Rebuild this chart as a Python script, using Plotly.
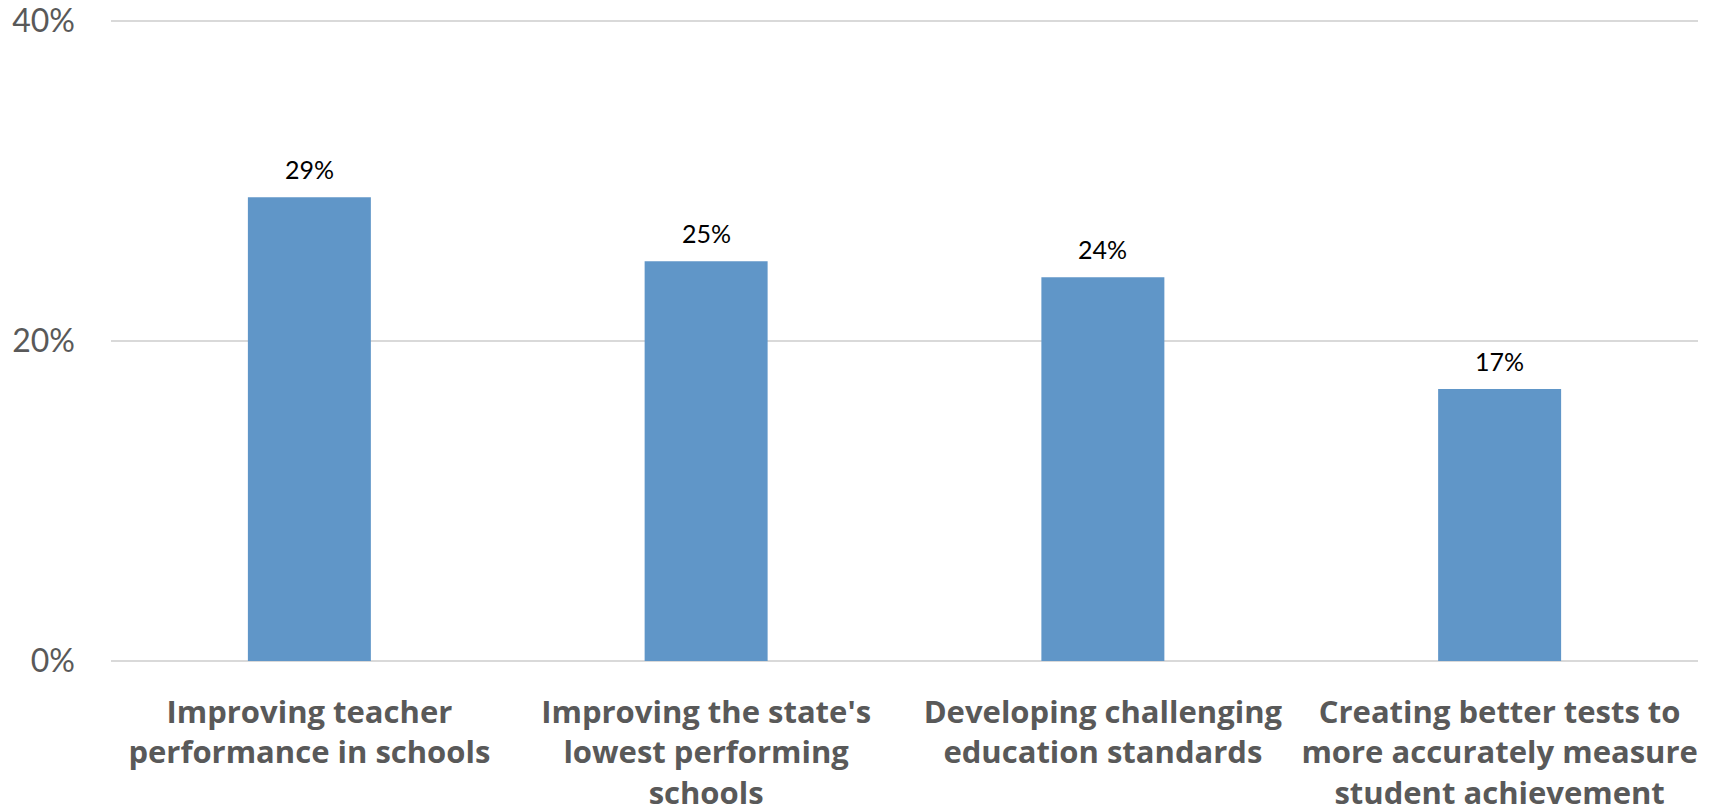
import plotly.graph_objects as go

categories = [
    "Improving teacher<br>performance in schools",
    "Improving the state's<br>lowest performing<br>schools",
    "Developing challenging<br>education standards",
    "Creating better tests to<br>more accurately measure<br>student achievement",
]
values = [29, 25, 24, 17]
y_ticks = [0, 20, 40]
y_tick_labels = ["0%", "20%", "40%"]

FONT = "Lato, 'Open Sans', sans-serif"
XFONT = "'Open Sans', Lato, sans-serif"

fig = go.Figure(
    go.Bar(
        x=categories,
        y=values,
        marker=dict(color="#6096c8", line=dict(width=0)),
        hoverinfo="skip",
    )
)

for c, v in zip(categories, values):
    fig.add_annotation(
        x=c, y=v, text=f"{v}%", showarrow=False,
        yanchor="bottom", yshift=11,
        font=dict(family=FONT, size=25, color="#000000"),
    )

fig.update_layout(
    width=1709, height=812,
    margin=dict(l=111, r=11, t=20, b=151),
    paper_bgcolor="white", plot_bgcolor="white",
    bargap=0.69,
    showlegend=False,
    font=dict(family=FONT, color="#595959"),
)
fig.update_yaxes(
    range=[0, 40.08], tickvals=y_ticks, ticktext=y_tick_labels,
    showgrid=True, gridcolor="#d9d9d9", gridwidth=2,
    zeroline=True, zerolinecolor="#d9d9d9", zerolinewidth=2,
    showline=False, automargin=False, ticklabeloverflow="allow",
    tickfont=dict(family=FONT, size=32, color="#595959"),
    ticks="", ticklabelstandoff=35,
)
fig.update_xaxes(
    showgrid=False, zeroline=False, showline=False, ticks="", automargin=False,
    ticklabeloverflow="allow",
    tickfont=dict(family=XFONT, size=31, color="#595959", weight="bold"),
    ticklabelstandoff=30, tickangle=0,
)

fig.write_html(
    "out.html",
    config={"displayModeBar": False},
    post_script="document.body.style.margin='0';document.body.style.overflow='hidden';",
)
